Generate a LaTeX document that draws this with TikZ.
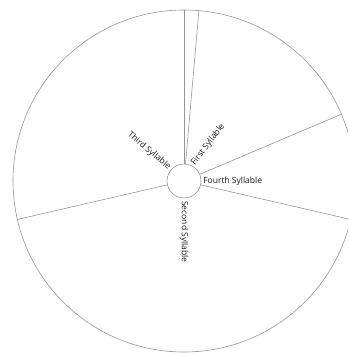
\documentclass[tikz,border=0pt]{standalone}
\usepackage{fontspec}
\setmainfont{Open Sans}
\usepackage{tikz}
\usetikzlibrary{positioning, calc}
\definecolor{RimGray}{RGB}{150,150,150}
\definecolor{InkDark}{RGB}{25,25,25}

\begin{document}
\begin{tikzpicture}[x=1pt, y=-1pt, font=\fontsize{8.5}{10}\selectfont,
	ring/.style={circle, draw=RimGray, line width=0.6pt, inner sep=0pt},
	spoke/.style={draw=RimGray, line width=0.6pt},
	lbl/.style={text=InkDark, inner sep=0.8pt}]
	\useasboundingbox (0,0) rectangle (348,353);
	\clip (0,0) rectangle (348,353);

	\node[ring, minimum size=342pt] (rim) at (184,181) {};
	\node[ring, minimum size=34pt] (hub) at (184,181) {};

	\foreach \a [count=\i] in {90,85,23,-13,193}{
		\path[spoke] (hub.\a) -- (rim.\a);
	}

	\node[lbl, anchor=west, rotate=53] (first) at ($(hub.62)+(0.5,-0.5)$) {First Syllable};
	\node[lbl, anchor=west, rotate=-90] (second) at ([yshift=-2pt]hub.south) {Second Syllable};
	\node[lbl, anchor=east, rotate=-40] (third) at ($(hub.138)+(-1,-1)$) {Third Syllable};
	\node[lbl, anchor=west] (fourth) at ([xshift=1pt]hub.east) {Fourth Syllable};
\end{tikzpicture}
\end{document}
